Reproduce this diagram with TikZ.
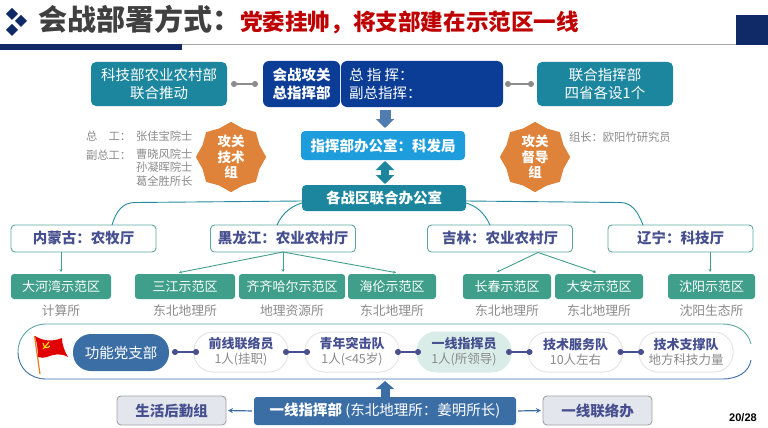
\documentclass[tikz,border=0pt]{standalone}
\usepackage{fontspec}
\setmainfont{Noto Sans CJK SC}
\newfontfamily\arialfont{Liberation Sans}
\usepackage{pgf,tikz}
\usetikzlibrary{arrows.meta,shapes.geometric}
\definecolor{navybar}{HTML}{0F2A66}
\definecolor{teal1}{HTML}{1C869F}
\definecolor{hqblue}{HTML}{0B3D96}
\definecolor{skyblue}{HTML}{1E9DDC}
\definecolor{green1}{HTML}{3F9F8B}
\definecolor{line1}{HTML}{5BA8A0}
\definecolor{steel}{HTML}{3C6EA6}
\definecolor{ink}{HTML}{46508F}
\definecolor{orange1}{HTML}{DF823A}
\definecolor{greytxt}{HTML}{8A8A8A}
\definecolor{paleblue}{HTML}{E4E6EE}
\tikzset{
  every node/.style={inner sep=0pt,outer sep=0pt,align=center},
  tealbox/.style={fill=teal1,text=white,rounded corners=5pt,font=\fontsize{14.5}{17.5}\selectfont},
  hqbox/.style={fill=hqblue,text=white,rounded corners=6pt,font=\fontsize{14.5}{17.5}\selectfont},
  provbox/.style={draw=line1,line width=0.9pt,fill=white,rounded corners=4pt,minimum width=145pt,minimum height=27pt,text=ink,font=\bfseries\fontsize{14.5}{17}\selectfont},
  demobox/.style={fill=green1,text=white,rounded corners=3pt,minimum height=25pt,font=\fontsize{13}{16}\selectfont},
  orglabel/.style={text=greytxt,font=\fontsize{12.8}{15}\selectfont},
  smalllabel/.style={text=greytxt,font=\fontsize{11.3}{13.5}\selectfont},
  starbox/.style={star,star points=8,star point ratio=1.14,minimum size=68pt,fill=orange1,text=white,font=\bfseries\fontsize{13.5}{15.5}\selectfont},
  pillbox/.style={draw=black!10,line width=1pt,fill=white,rounded corners=19pt,minimum width=94pt,minimum height=40pt,text=greytxt,font=\fontsize{12.5}{15}\selectfont},
  supportbox/.style={draw=black!30!paleblue,line width=0.9pt,fill=paleblue,rounded corners=4pt,minimum width=109pt,minimum height=29pt,text=ink,font=\bfseries\fontsize{14.5}{17}\selectfont},
  greylink/.style={draw=black!45,line width=1.2pt,{Circle[length=6pt]}-{Circle[length=6pt]}},
  dotlink/.style={draw=ink,line width=1.2pt,{Circle[length=6pt]}-{Circle[length=6pt]}},
  treelink/.style={draw=green1,line width=0.9pt,-{Stealth[length=3pt,width=3pt]}},
  curvelink/.style={draw=teal1!80!green1,line width=0.9pt},
}
\begin{document}
\begin{tikzpicture}[x=1pt,y=-1pt]
\useasboundingbox (0,0) rectangle (768,428);
% title bar
\foreach \cx/\cy in {12/14,21/21,12/30}
    \fill[navybar] (\cx-6,\cy)--(\cx,\cy-6)--(\cx+6,\cy)--(\cx,\cy+6)--cycle;
\node[anchor=west,text=black!75,font=\bfseries\fontsize{29}{32}\selectfont] (title) at (38,19) {会战部署方式：};
\node[anchor=west,text=red!75!black,font=\bfseries\fontsize{22.6}{26}\selectfont] (subtitle) at (240,22) {党委挂帅，将支部建在示范区一线};
\draw[black!35,line width=0.8pt] (0,44.6)--(736,44.6);
\fill[navybar] (0,44.5) rectangle (182,50);
\fill[navybar] (736,15) rectangle (768,45);
% top row
\node[tealbox,minimum width=136pt,minimum height=44pt] (kejibu) at (159,84) {科技部农业农村部\\联合推动};
\node[hqbox,minimum width=77pt,minimum height=46pt,font=\bfseries\fontsize{14.5}{17.5}\selectfont] (hq) at (301.5,84) {会战攻关\\总指挥部};
\node[hqbox,minimum width=162pt,minimum height=46pt] (hqinfo) at (422,84) {};
\node[anchor=west,text=white,align=left,font=\fontsize{14.5}{17.5}\selectfont] (hqtext) at (349,84) {总 指 挥：\\副总指挥：};
\node[tealbox,minimum width=136pt,minimum height=44pt] (lianhe) at (605,84) {联合指挥部\\四省各设1个};
\draw[greylink,shorten <=4pt,shorten >=5pt] (kejibu.east)--(hq.west);
\draw[greylink,shorten <=2pt,shorten >=3pt] (hqinfo.east)--(lianhe.west);
% office boxes
\node[fill=skyblue,text=white,rounded corners=4pt,minimum width=164pt,minimum height=29pt,font=\bfseries\fontsize{14.5}{17}\selectfont] (office) at (383,145.5) {指挥部办公室：科发局};
\node[fill=teal1,text=white,rounded corners=4pt,minimum width=164pt,minimum height=26pt,font=\bfseries\fontsize{14.5}{17}\selectfont] (zhanqu) at (384,198) {各战区联合办公室};
\coordinate (officetop) at (385,131);
\coordinate (officebot) at (385,160);
\coordinate (zhanqutop) at (385,185);
\draw[line width=11pt,steel!90,-{Triangle[length=9pt,width=18pt]},shorten <=3pt,shorten >=3pt] (officetop |- hqinfo.south)--(officetop);
\draw[line width=8pt,teal1,{Triangle[length=9pt,width=18pt]}-{Triangle[length=9pt,width=18pt]},shorten <=1pt,shorten >=1pt] (officebot)--(zhanqutop);
% stars
\node[starbox] (gongguan) at (231,157) {攻关\\技术\\组};
\node[starbox] (dudao) at (535,157) {攻关\\督导\\组};
\node[smalllabel,anchor=west] (zonggong) at (86,136) {总\hspace{1em}工：};
\node[smalllabel,anchor=west] (zhang) at (136,136) {张佳宝院士};
\node[smalllabel,anchor=west] (fuzong) at (86,155) {副总工：};
\node[smalllabel,anchor=north west] (cao) at (136,148.5) {曹晓风院士\\孙凝晖院士\\葛全胜所长};
\node[smalllabel,anchor=west] (zuzhang) at (569,137) {组长：欧阳竹研究员};
% provinces
\node[provbox] (neimeng) at (83.5,238.5) {内蒙古：农牧厅};
\node[provbox] (heilong) at (283,238.5) {黑龙江：农业农村厅};
\node[provbox] (jilin) at (500,238.5) {吉林：农业农村厅};
\node[provbox] (liaoning) at (680.5,238.5) {辽宁：科技厅};
\draw[curvelink] (zhanqu.west)++(0,3) -- (135,202.5) .. controls (122,202.5) and (116,212) .. (neimeng.north -| 112,0);
\draw[curvelink] (zhanqu.west)++(0,5) .. controls (292,206) and (283,212) .. (heilong.north -| 277,0);
\draw[curvelink] (zhanqu.east)++(0,3) -- (620,202.5) .. controls (632,202.5) and (638,212) .. (liaoning.north -| 643,0);
\draw[curvelink] (zhanqu.east)++(0,5) .. controls (476,206) and (484,212) .. (jilin.north -| 490,0);
% demo zones with their institutes
\foreach \nm/\cx/\bw/\txt/\org in {
    dahe/61/100/大河湾示范区/计算所,
    sanjiang/185/100/三江示范区/东北地理所,
    qiqi/292/106/齐齐哈尔示范区/地理资源所,
    hailun/392/88/海伦示范区/东北地理所,
    changchun/507/88/长春示范区/东北地理所,
    daan/599/88/大安示范区/东北地理所,
    shenyang/711.5/87/沈阳示范区/沈阳生态所}
{
    \node[demobox,minimum width=\bw pt] (\nm) at (\cx,286.5) {\txt};
    \node[orglabel] (\nm org) at (\cx,310.5) {\org};
}
\coordinate (heilongfoot) at (283,252);
\coordinate (jilinfoot) at (538,252.5);
\draw[treelink,shorten >=2pt] (neimeng.south -| dahe.north)--(dahe.north);
\draw[treelink,shorten >=2pt] (heilongfoot)--(177,273);
\draw[treelink,shorten >=2pt] (heilongfoot)--(heilongfoot |- qiqi.north);
\draw[treelink,shorten >=2pt] (heilongfoot)--(398,273);
\draw[treelink,shorten >=2pt] (jilinfoot)--(495,273);
\draw[treelink,shorten >=2pt] (jilinfoot)--(598,273);
\draw[treelink,shorten >=2pt] (710,252)--(710,274);
% party branch band
\draw[line1,line width=0.9pt] (18,352) .. controls (18,336) and (30,324) .. (46,324)--(722,324) .. controls (738,324) and (748,332) .. (751,344);
\draw[steel,line width=0.9pt] (751,360) .. controls (749,372) and (738,379) .. (722,379)--(46,379) .. controls (30,379) and (18,368) .. (18,352);
% flag
\draw[orange!60!brown,line width=1.2pt] (34.5,336)--(40,374);
\fill[red!88!black] (35,336) .. controls (43,341) and (52,342) .. (62,338) .. controls (62,345) and (65,352) .. (68,357) .. controls (61,353) and (54,354) .. (47,357) .. controls (44,358) and (41,358) .. (38,357) .. controls (38,350) and (37,343) .. (35,336)--cycle;
\draw[yellow!85!orange,line width=1.1pt] (43,343) .. controls (44,348) and (47,349) .. (50,346);
\draw[yellow!85!orange,line width=1.1pt] (49,342)--(43,349);
% branch members
\node[fill=steel,text=white,rounded corners=18pt,minimum width=96pt,minimum height=37pt,font=\fontsize{14.5}{17}\selectfont] (branch) at (121,352.5) {功能党支部};
\node[pillbox] (qianxian) at (241,352) {{\bfseries\color{ink}\fontsize{13}{15}\selectfont 前线联络员}\\1人(挂职)};
\node[pillbox] (qingnian) at (352,352) {{\bfseries\color{ink}\fontsize{13}{15}\selectfont 青年突击队}\\1人(<45岁)};
\node[pillbox,fill=green1!20,draw=green1!20] (yixianyuan) at (464,352) {{\bfseries\color{ink}\fontsize{13}{15}\selectfont 一线指挥员}\\1人(所领导)};
\node[pillbox] (jishu) at (575.5,352) {{\bfseries\color{ink}\fontsize{13}{15}\selectfont 技术服务队}\\10人左右};
\node[pillbox] (zhicheng) at (686,352) {{\bfseries\color{ink}\fontsize{13}{15}\selectfont 技术支撑队}\\地方科技力量};
\draw[dotlink,shorten <=3pt,shorten >=-5pt] (branch.east |- qianxian.west)--(qianxian.west);
\draw[dotlink,shorten <=-5pt,shorten >=-5pt] (qianxian.east)--(qingnian.west);
\draw[dotlink,shorten <=-4pt,shorten >=-4pt] (qingnian.east)--(yixianyuan.west);
\draw[dotlink,shorten <=-5pt,shorten >=-4pt] (yixianyuan.east)--(jishu.west);
\draw[dotlink,shorten <=-5pt,shorten >=-5pt] (jishu.east)--(zhicheng.west);
% bottom row
\node[fill=steel,text=white,rounded corners=3pt,minimum width=262pt,minimum height=28pt,font=\fontsize{14.5}{17}\selectfont] (yixian) at (385,411) {{\bfseries 一线指挥部} (东北地理所：姜明所长)};
\node[supportbox] (houqin) at (171.5,410.5) {生活后勤组};
\node[supportbox] (lianluo) at (597.5,410.5) {一线联络办};
\coordinate (bandbot) at (385,381);
\draw[line width=9pt,steel,-{Triangle[length=8pt,width=18pt]},shorten <=0pt] (yixian.north)--(bandbot);
\draw[draw=steel,line width=1.2pt,-{Stealth[length=5pt,width=5pt]},shorten <=2pt,shorten >=2pt] (yixian.west)--(houqin.east);
\draw[draw=steel,line width=1.2pt,-{Stealth[length=5pt,width=5pt]},shorten <=2pt,shorten >=2pt] (yixian.east)--(lianluo.west);
\node[text=black,font=\arialfont\bfseries\fontsize{11}{13}\selectfont] (pagenum) at (743,418) {20/28};
\end{tikzpicture}
\end{document}
